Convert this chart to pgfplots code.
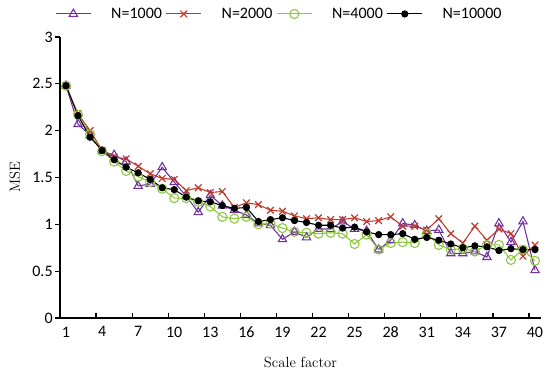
\documentclass[border=0pt]{standalone}
\usepackage{fontspec}
\setsansfont{Carlito}
\usepackage{pgfplots}
\pgfplotsset{compat=1.18}
\definecolor{cpur}{HTML}{7030A0}
\definecolor{cred}{HTML}{C0392B}
\definecolor{cgrn}{HTML}{8DC63F}
\begin{document}
\begin{tikzpicture}
\useasboundingbox (-45pt,-44.25pt) rectangle (367.5pt,238.5pt);
\begin{axis}[
  at={(0pt,0pt)}, anchor=south west,
  scale only axis, width=360.75pt, height=210.75pt,
  xmin=0.5, xmax=40.5, ymin=0, ymax=3,
  axis x line*=bottom, axis y line*=left,
  axis line style={-, line width=0.9pt},
  tick style={draw=none},
  xtick={0.5,3.5,...,39.5},
  xticklabels={1,4,7,10,13,16,19,22,25,28,31,34,37,40},
  ytick={0,0.5,...,3},
  /pgf/number format/assume math mode=true,
  tick label style={font=\sffamily\fontsize{12}{14}\selectfont},
  xticklabel style={xshift=4.51pt, yshift=-3pt},
  yticklabel style={xshift=-2pt},
  xlabel={Scale factor},
  ylabel={MSE},
  label style={font=\fontsize{11}{13}\selectfont},
  xlabel style={at={(axis description cs:0.5,-0.16)}, anchor=center},
  ylabel style={at={(axis description cs:-0.094,0.5)}, anchor=center},
  legend style={at={(0.457,1.082)}, anchor=center, draw=none, fill=none,
    legend columns=4, font=\sffamily\fontsize{12}{14}\selectfont,
    /tikz/every even column/.append style={column sep=1pt},
    /tikz/every odd column/.append style={column sep=13pt}},
  legend image code/.code={\draw[mark repeat=2,mark phase=2,#1] plot coordinates {(0pt,0pt)(13pt,0pt)(26pt,0pt)};},
  every axis plot/.append style={line width=0.8pt},
]
\addplot[cpur, mark=triangle, mark size=3.6pt, mark options={solid, line width=0.8pt}] coordinates {
(1,2.48)(2,2.07)(3,1.95)(4,1.78)(5,1.74)(6,1.67)(7,1.41)(8,1.43)(9,1.61)(10,1.45)
(11,1.30)(12,1.13)(13,1.31)(14,1.20)(15,1.15)(16,1.10)(17,1.01)(18,0.99)(19,0.84)(20,0.92)
(21,0.86)(22,0.95)(23,0.95)(24,1.03)(25,0.95)(26,0.93)(27,0.73)(28,0.83)(29,1.01)(30,0.99)
(31,0.93)(32,0.94)(33,0.69)(34,0.69)(35,0.71)(36,0.65)(37,1.01)(38,0.81)(39,1.03)(40,0.51)};
\addlegendentry{N=1000}
\addplot[cred, mark=x, mark size=3.5pt, mark options={solid, line width=0.9pt}] coordinates {
(1,2.48)(2,2.18)(3,2.00)(4,1.79)(5,1.72)(6,1.70)(7,1.62)(8,1.54)(9,1.49)(10,1.48)
(11,1.36)(12,1.39)(13,1.34)(14,1.35)(15,1.18)(16,1.23)(17,1.21)(18,1.15)(19,1.14)(20,1.09)
(21,1.06)(22,1.07)(23,1.05)(24,1.05)(25,1.07)(26,1.03)(27,1.04)(28,1.08)(29,0.98)(30,0.98)
(31,0.94)(32,1.06)(33,0.90)(34,0.80)(35,0.98)(36,0.83)(37,0.95)(38,0.90)(39,0.66)(40,0.78)};
\addlegendentry{N=2000}
\addplot[cgrn, mark=o, mark size=3.4pt, mark options={solid, line width=0.8pt}] coordinates {
(1,2.48)(2,2.17)(3,1.96)(4,1.78)(5,1.67)(6,1.57)(7,1.51)(8,1.45)(9,1.38)(10,1.28)
(11,1.28)(12,1.24)(13,1.19)(14,1.08)(15,1.06)(16,1.08)(17,1.00)(18,1.01)(19,0.96)(20,0.92)
(21,0.91)(22,0.90)(23,0.91)(24,0.90)(25,0.79)(26,0.89)(27,0.73)(28,0.80)(29,0.81)(30,0.80)
(31,0.90)(32,0.78)(33,0.73)(34,0.74)(35,0.71)(36,0.78)(37,0.78)(38,0.62)(39,0.73)(40,0.61)};
\addlegendentry{N=4000}
\addplot[black, mark=*, mark size=2.3pt, mark options={solid}] coordinates {
(1,2.48)(2,2.16)(3,1.93)(4,1.79)(5,1.69)(6,1.61)(7,1.55)(8,1.48)(9,1.39)(10,1.37)
(11,1.29)(12,1.25)(13,1.24)(14,1.20)(15,1.17)(16,1.18)(17,1.03)(18,1.05)(19,1.07)(20,1.04)
(21,1.02)(22,0.99)(23,0.99)(24,0.96)(25,0.97)(26,0.92)(27,0.89)(28,0.89)(29,0.90)(30,0.84)
(31,0.86)(32,0.83)(33,0.79)(34,0.75)(35,0.77)(36,0.76)(37,0.72)(38,0.74)(39,0.73)(40,0.73)};
\addlegendentry{N=10000}
\end{axis}
% axis tick marks (x: between categories, pointing up; y: pointing left)
\foreach \k in {0,...,13} \draw[black, line width=0.9pt] ({27.05625pt*\k},0pt) -- ++(0pt,4pt);
\foreach \k in {0,...,6} \draw[black, line width=0.9pt] (0pt,{35.125pt*\k}) -- ++(-4pt,0pt);
\end{tikzpicture}
\end{document}
